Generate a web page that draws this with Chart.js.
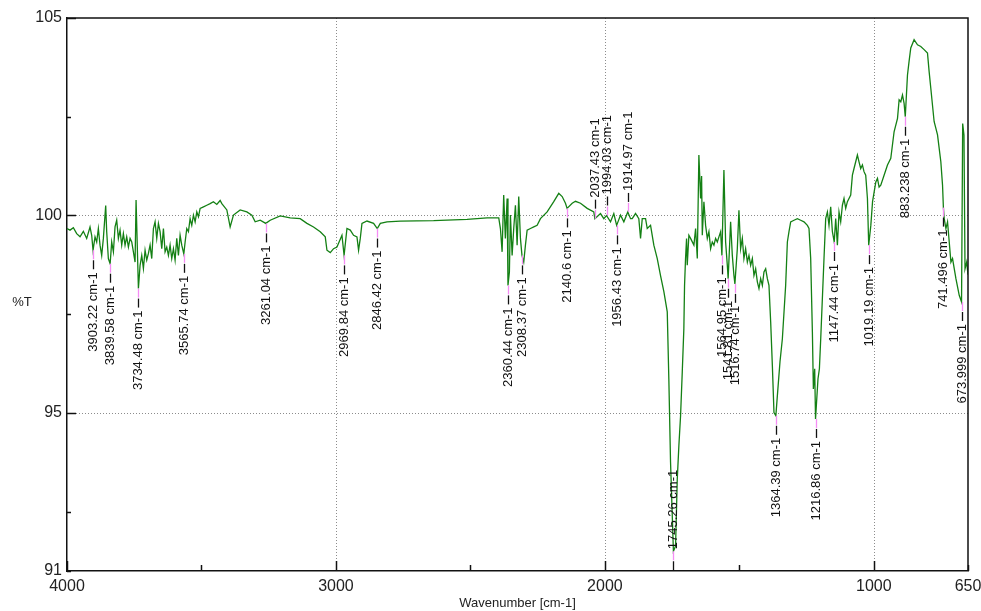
<!DOCTYPE html>
<html>
<head>
<meta charset="utf-8">
<script src="https://cdn.jsdelivr.net/npm/chart.js@4.4.1/dist/chart.umd.min.js"></script>
<style>
  html, body { margin: 0; padding: 0; background: #fff; }
  #box { width: 981px; height: 611px; }
</style>
</head>
<body>
<div id="box"><canvas id="spectro" width="981" height="611"></canvas></div>
<script>
// IR spectrum (wavenumber in cm-1, %T)
const wavenumbers = [
  4000, 3988.8, 3976.4, 3964.0, 3951.6, 3939.2, 3926.8, 3914.4, 3908.2, 3903.2,
  3895.8, 3889.6, 3883.4, 3877.2, 3871.0, 3864.8, 3856.1, 3852.4, 3846.2, 3839.6,
  3833.8, 3827.5, 3821.4, 3815.2, 3809.0, 3802.8, 3796.5, 3790.4, 3784.2, 3778.0,
  3771.7, 3765.5, 3759.3, 3753.1, 3746.9, 3743.2, 3734.5, 3728.3, 3722.1, 3715.9,
  3709.7, 3703.5, 3697.3, 3691.1, 3684.9, 3678.7, 3672.5, 3666.3, 3660.1, 3653.9,
  3647.7, 3641.5, 3635.3, 3629.1, 3622.9, 3616.7, 3610.5, 3604.3, 3598.1, 3591.9,
  3585.7, 3579.5, 3573.3, 3565.7, 3560.8, 3554.7, 3548.5, 3542.3, 3536.1, 3529.9,
  3523.6, 3517.4, 3511.2, 3505.0, 3492.6, 3480.2, 3467.8, 3455.6, 3443.0, 3430.6,
  3424.3, 3405.7, 3393.4, 3381.1, 3356.2, 3331.3, 3312.6, 3300.3, 3281.7, 3261.0,
  3244.5, 3207.3, 3170.1, 3132.9, 3107.9, 3083.4, 3058.4, 3039.8, 3033.5, 3021.2,
  3008.9, 2996.3, 2977.7, 2969.8, 2959.1, 2946.8, 2934.5, 2921.9, 2915.9, 2909.6,
  2903.3, 2884.6, 2860.1, 2846.4, 2835.1, 2810.2, 2760.7, 2636.8, 2512.5, 2438.1,
  2394.7, 2388.5, 2382.2, 2376.3, 2370.1, 2363.6, 2360.4, 2355.1, 2351.3, 2345.0,
  2339.0, 2332.7, 2326.4, 2320.4, 2314.1, 2308.4, 2301.8, 2295.5, 2289.2, 2276.9,
  2264.6, 2252.0, 2239.7, 2214.8, 2190.2, 2171.6, 2158.9, 2146.7, 2140.6, 2121.7,
  2109.4, 2090.8, 2065.9, 2041.3, 2037.4, 2016.4, 2004.1, 1994.0, 1979.2, 1966.9,
  1956.4, 1941.9, 1929.6, 1915.0, 1904.7, 1898.5, 1886.1, 1873.9, 1867.5, 1861.2,
  1848.9, 1842.6, 1830.3, 1818.1, 1805.4, 1793.2, 1780.8, 1768.2, 1762.3, 1756.0,
  1745.3, 1737.3, 1731.0, 1725.0, 1718.7, 1712.4, 1706.5, 1703.9, 1700.2, 1696.4,
  1693.9, 1687.8, 1681.5, 1669.1, 1662.8, 1656.5, 1650.6, 1644.2, 1640.5, 1637.9,
  1631.9, 1625.6, 1619.3, 1613.3, 1607.0, 1600.7, 1594.7, 1588.4, 1582.1, 1576.1,
  1569.8, 1565.0, 1557.5, 1551.2, 1544.9, 1541.8, 1532.6, 1526.3, 1520.3, 1516.7,
  1507.7, 1501.7, 1495.4, 1489.1, 1483.1, 1476.8, 1470.4, 1464.4, 1458.1, 1451.8,
  1445.8, 1439.5, 1433.2, 1427.2, 1420.9, 1414.6, 1408.6, 1402.3, 1396.0, 1390.0,
  1383.7, 1377.4, 1371.4, 1364.4, 1358.8, 1349.1, 1340.2, 1328.0, 1321.6, 1315.6,
  1309.3, 1297.0, 1284.4, 1272.1, 1259.8, 1247.2, 1241.2, 1234.9, 1228.6, 1224.9,
  1220.0, 1216.9, 1207.8, 1202.5, 1197.6, 1185.4, 1179.1, 1172.8, 1166.8, 1160.5,
  1154.2, 1147.4, 1141.9, 1135.6, 1129.6, 1123.3, 1117.0, 1111.0, 1104.7, 1098.4,
  1086.1, 1079.8, 1073.8, 1061.2, 1055.2, 1048.9, 1042.6, 1036.6, 1030.3, 1023.9,
  1019.2, 1011.3, 1004.9, 998.9, 992.7, 986.6, 980.6, 974.3, 962.0, 949.4,
  937.1, 924.8, 912.1, 906.1, 899.9, 893.6, 887.6, 883.2, 875.1, 869.1,
  862.8, 850.4, 837.8, 825.5, 813.2, 800.6, 794.6, 788.3, 776.0, 763.3,
  751.0, 744.7, 741.5, 738.4, 732.1, 726.1, 713.5, 707.5, 694.9, 682.6,
  674.0, 669.8, 665.0, 661.1, 654.9, 650
];
const transmittance = [
  99.67, 99.63, 99.69, 99.54, 99.46, 99.60, 99.42, 99.71, 99.50, 99.12,
  99.46, 99.33, 99.67, 99.25, 98.99, 99.42, 100.25, 99.59, 98.91, 98.78,
  99.33, 99.08, 99.71, 99.88, 99.42, 99.63, 99.25, 99.54, 99.25, 99.46,
  99.20, 99.42, 99.33, 99.08, 98.82, 100.39, 98.15, 98.74, 98.99, 98.66,
  99.12, 98.87, 99.04, 99.25, 98.91, 99.67, 99.84, 99.42, 99.80, 99.59,
  99.16, 99.67, 99.08, 99.20, 98.99, 99.25, 98.91, 99.16, 98.87, 99.42,
  98.99, 99.50, 99.25, 99.03, 99.33, 99.67, 99.59, 99.92, 99.75, 100.01,
  99.84, 100.09, 99.97, 100.18, 100.22, 100.26, 100.30, 100.35, 100.28, 100.38,
  100.30, 100.14, 99.71, 100.01, 100.14, 100.09, 100.01, 99.84, 99.88, 99.80,
  99.88, 99.99, 99.94, 99.92, 99.80, 99.71, 99.59, 99.46, 99.12, 99.06,
  99.16, 99.20, 99.50, 98.99, 99.67, 99.63, 99.50, 99.46, 99.12, 99.42,
  99.80, 99.86, 99.80, 99.67, 99.80, 99.84, 99.86, 99.87, 99.90, 99.94,
  99.94, 99.67, 99.08, 100.52, 99.42, 100.43, 98.23, 98.57, 100.01, 98.99,
  99.67, 100.26, 99.25, 100.48, 99.42, 98.99, 98.82, 99.25, 99.63, 99.67,
  99.71, 99.75, 99.92, 100.09, 100.35, 100.56, 100.48, 100.31, 100.18, 100.31,
  100.36, 100.31, 100.18, 100.09, 99.92, 100.05, 99.92, 100.00, 99.84, 100.05,
  99.75, 100.01, 99.84, 100.09, 99.92, 99.92, 100.05, 99.92, 99.42, 99.92,
  99.92, 99.67, 99.75, 99.25, 98.91, 98.48, 98.07, 97.56, 95.86, 93.76,
  91.50, 91.63, 93.32, 94.17, 94.93, 96.04, 97.13, 98.23, 98.91, 99.42,
  98.74, 99.50, 99.42, 99.25, 99.67, 98.91, 101.53, 100.43, 101.00, 99.50,
  100.35, 99.75, 99.42, 99.59, 99.16, 99.33, 99.25, 99.42, 99.33, 99.46,
  99.59, 98.99, 101.15, 99.33, 98.74, 98.40, 99.84, 98.99, 98.48, 98.27,
  99.16, 100.13, 99.16, 99.42, 98.91, 99.16, 98.82, 98.99, 98.74, 98.91,
  98.48, 98.65, 98.32, 98.15, 98.40, 98.23, 98.57, 98.65, 98.40, 98.23,
  97.31, 96.20, 95.01, 94.93, 95.44, 96.29, 96.88, 98.23, 99.33, 99.59,
  99.84, 99.88, 99.92, 99.88, 99.84, 99.75, 99.67, 98.91, 97.05, 95.61,
  96.12, 94.85, 95.86, 96.12, 96.88, 98.91, 99.92, 100.09, 99.75, 100.22,
  99.59, 99.33, 99.92, 99.25, 100.09, 99.84, 100.26, 100.43, 100.18, 100.35,
  100.52, 101.02, 101.19, 101.53, 101.36, 101.19, 101.28, 101.11, 101.02, 100.43,
  99.25, 99.75, 100.35, 100.60, 100.85, 100.94, 100.72, 100.77, 101.02, 101.28,
  101.45, 102.12, 102.46, 102.93, 102.88, 103.05, 102.84, 102.50, 103.55, 103.90,
  104.24, 104.45, 104.32, 104.28, 104.20, 104.11, 103.65, 103.22, 102.38, 102.04,
  101.36, 100.77, 100.20, 99.92, 99.67, 99.84, 98.82, 98.91, 98.40, 97.98,
  97.81, 102.33, 102.04, 98.65, 98.82, 98.50
];

// peak picks: position, %T at the pick, label, where the text goes
const peakWn = [3903.22, 3839.58, 3734.48, 3565.74, 3261.04, 2969.84, 2846.42, 2360.44, 2308.37,
  2140.6, 2037.43, 1994.03, 1956.43, 1914.97, 1745.26, 1564.95, 1541.81, 1516.74, 1364.39,
  1216.86, 1147.44, 1019.19, 883.238, 741.496, 673.999];
const peakT = [99.12, 98.78, 98.15, 99.03, 99.80, 98.99, 99.67, 98.23, 98.99,
  100.18, 99.92, 100.00, 99.75, 100.09, 91.50, 98.99, 98.40, 98.27, 94.93,
  94.85, 99.33, 99.25, 102.50, 100.20, 97.81];
const peakLabels = ['3903.22 cm-1', '3839.58 cm-1', '3734.48 cm-1', '3565.74 cm-1', '3261.04 cm-1',
  '2969.84 cm-1', '2846.42 cm-1', '2360.44 cm-1', '2308.37 cm-1', '2140.6 cm-1', '2037.43 cm-1',
  '1994.03 cm-1', '1956.43 cm-1', '1914.97 cm-1', '1745.26 cm-1', '1564.95 cm-1', '1541.81 cm-1',
  '1516.74 cm-1', '1364.39 cm-1', '1216.86 cm-1', '1147.44 cm-1', '1019.19 cm-1', '883.238 cm-1',
  '741.496 cm-1', '673.999 cm-1'];
const peakSide = ['down', 'down', 'down', 'down', 'down', 'down', 'down', 'down', 'down',
  'down', 'up', 'up', 'down', 'up', 'flip', 'down', 'down', 'down', 'down',
  'down', 'down', 'down', 'down', 'down', 'down'];

const xTickValues = [650, 1000, 1500, 2000, 2500, 3000, 3500, 4000];
const xTickLabels = ['650', '1000', '', '2000', '', '3000', '', '4000'];
const xGridAt = [1000, 2000, 3000];
const yTickValues = [91, 92.5, 95, 97.5, 100, 102.5, 105];
const yTickLabels = ['91', '', '95', '', '100', '', '105'];
const yGridAt = [95, 100];

let pontos = [];
for (let i = 0; i < wavenumbers.length; i++) {
  pontos.push({ x: wavenumbers[i], y: transmittance[i] });
}

// dotted grid, drawn under the trace
const dottedGrid = {
  id: 'dottedGrid',
  beforeDatasetsDraw(chart) {
    const ctx = chart.ctx;
    const area = chart.chartArea;
    const xs = chart.scales.x;
    const ys = chart.scales.y;
    ctx.save();
    ctx.strokeStyle = '#8c8c8c';
    ctx.lineWidth = 1;
    ctx.setLineDash([1, 2]);
    xGridAt.forEach(function (v) {
      const x = Math.round(xs.getPixelForValue(v)) + 0.5;
      ctx.beginPath();
      ctx.moveTo(x, area.top);
      ctx.lineTo(x, area.bottom);
      ctx.stroke();
    });
    yGridAt.forEach(function (v) {
      const y = Math.round(ys.getPixelForValue(v)) + 0.5;
      ctx.beginPath();
      ctx.moveTo(area.left, y);
      ctx.lineTo(area.right, y);
      ctx.stroke();
    });
    ctx.restore();
  }
};

const frameAndPeaks = {
  id: 'frameAndPeaks',
  afterDatasetsDraw(chart) {
    const ctx = chart.ctx;
    const area = chart.chartArea;
    const xs = chart.scales.x;
    const ys = chart.scales.y;
    ctx.save();

    // peak labels
    ctx.font = '13px "Liberation Sans", Arial, sans-serif';
    ctx.textBaseline = 'middle';
    for (let i = 0; i < peakWn.length; i++) {
      const px = Math.round(xs.getPixelForValue(peakWn[i])) + 0.5;
      const py = ys.getPixelForValue(peakT[i]);
      const side = peakSide[i];
      const dir = side === 'up' ? -1 : 1;
      ctx.lineWidth = 1.3;
      ctx.strokeStyle = '#f58cf5';
      ctx.beginPath();
      ctx.moveTo(px, py);
      ctx.lineTo(px, py + dir * 9);
      ctx.stroke();
      ctx.strokeStyle = '#111';
      ctx.beginPath();
      ctx.moveTo(px, py + dir * 10);
      ctx.lineTo(px, py + dir * 19);
      ctx.stroke();

      ctx.save();
      ctx.fillStyle = '#111';
      if (side === 'down') {
        ctx.translate(px, py + 22);
        ctx.rotate(-Math.PI / 2);
        ctx.textAlign = 'right';
      } else if (side === 'up') {
        ctx.translate(px, py - 21);
        ctx.rotate(-Math.PI / 2);
        ctx.textAlign = 'left';
      } else {
        ctx.translate(px, py - 2);
        ctx.rotate(-Math.PI / 2);
        ctx.textAlign = 'left';
      }
      ctx.fillText(peakLabels[i], 0, 0);
      ctx.restore();
    }

    // inner tick marks
    ctx.strokeStyle = '#111';
    ctx.lineWidth = 1.5;
    xTickValues.forEach(function (v) {
      const x = Math.round(xs.getPixelForValue(v)) + 0.5;
      const len = v % 1000 === 0 ? 10 : 6;
      ctx.beginPath();
      ctx.moveTo(x, area.bottom);
      ctx.lineTo(x, area.bottom - len);
      ctx.stroke();
    });
    yTickValues.forEach(function (v) {
      const y = Math.round(ys.getPixelForValue(v)) + 0.5;
      const len = v % 5 === 0 ? 9 : 4;
      ctx.beginPath();
      ctx.moveTo(area.left, y);
      ctx.lineTo(area.left + len, y);
      ctx.stroke();
    });

    // top and right frame
    ctx.lineWidth = 1.5;
    ctx.beginPath();
    ctx.moveTo(area.left, area.top);
    ctx.lineTo(area.right, area.top);
    ctx.lineTo(area.right, area.bottom);
    ctx.stroke();

    // %T title, written level like the original
    ctx.fillStyle = '#222';
    ctx.font = '13px "Liberation Sans", Arial, sans-serif';
    ctx.textAlign = 'center';
    ctx.textBaseline = 'middle';
    ctx.fillText('%T', area.left - 45, (area.top + area.bottom) / 2 + 8);
    ctx.restore();
  }
};

const config = {
  type: 'line',
  data: {
    datasets: [{
      label: '%T',
      data: pontos,
      borderColor: 'rgb(20,128,20)',
      borderWidth: 1.3,
      pointRadius: 0,
      tension: 0,
      fill: false
    }]
  },
  options: {
    responsive: false,
    animation: false,
    devicePixelRatio: 1,
    layout: { padding: { left: 0, top: 18, right: 13, bottom: 0 } },
    plugins: { legend: { display: false }, tooltip: { enabled: false } },
    scales: {
      x: {
        type: 'linear',
        reverse: true,
        min: 650,
        max: 4000,
        afterBuildTicks: function (scale) {
          scale.ticks = xTickValues.map(v => ({ value: v }));
        },
        afterFit: function (scale) { scale.height = 40; },
        ticks: {
          autoSkip: false,
          maxRotation: 0,
          minRotation: 0,
          padding: 6,
          color: '#222',
          font: { family: '"Liberation Sans", Arial, sans-serif', size: 16 },
          callback: function (value) {
            return xTickLabels[xTickValues.indexOf(value)];
          }
        },
        grid: { display: false, drawTicks: false },
        border: { display: true, color: '#111', width: 1.5 },
        title: {
          display: true,
          text: 'Wavenumber [cm-1]',
          color: '#222',
          padding: { top: 0, bottom: 0 },
          font: { family: '"Liberation Sans", Arial, sans-serif', size: 13 }
        }
      },
      y: {
        type: 'linear',
        min: 91,
        max: 105,
        afterBuildTicks: function (scale) {
          scale.ticks = yTickValues.map(v => ({ value: v }));
        },
        afterFit: function (scale) { scale.width = 67; },
        ticks: {
          padding: 5,
          color: '#222',
          font: { family: '"Liberation Sans", Arial, sans-serif', size: 16 },
          callback: function (value) {
            return yTickLabels[yTickValues.indexOf(value)];
          }
        },
        grid: { display: false, drawTicks: false },
        border: { display: true, color: '#111', width: 1.5 }
      }
    }
  },
  plugins: [dottedGrid, frameAndPeaks]
};

const ctx = document.getElementById('spectro').getContext('2d');
let myChart = new Chart(ctx, config);
</script>
</body>
</html>
